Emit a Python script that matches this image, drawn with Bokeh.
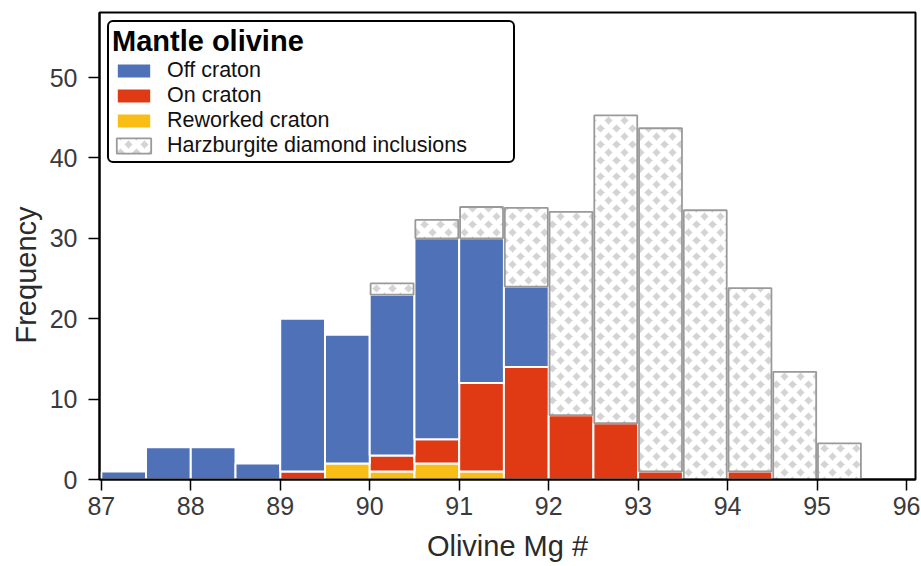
import numpy as np
from bokeh.plotting import figure
from bokeh.models import (ColumnDataSource, Legend, LegendItem, Range1d, FixedTicker,
                          CDSView, BooleanFilter, Title)
from bokeh.embed import file_html
from bokeh.resources import INLINE

# Olivine Mg# histogram, 0.5-wide bins (bin centres)
bin_centers = [87.25, 87.75, 88.25, 88.75, 89.25, 89.75, 90.25, 90.75, 91.25,
               91.75, 92.25, 92.75, 93.25, 93.75, 94.25, 94.75, 95.25]
reworked_craton = [0, 0, 0, 0, 0, 2, 1, 2, 1, 0, 0, 0, 0, 0, 0, 0, 0]
on_craton = [0, 0, 0, 0, 1, 0, 2, 3, 11, 14, 8, 7, 1, 0, 1, 0, 0]
off_craton = [1, 4, 4, 2, 19, 16, 20, 25, 18, 10, 0, 0, 0, 0, 0, 0, 0]
harzburgite = [0, 0, 0, 0, 0, 0, 1.4, 2.3, 3.9, 9.8, 25.3, 38.3, 42.7, 33.5, 22.8, 13.4, 4.5]

x_ticks = [87, 88, 89, 90, 91, 92, 93, 94, 95, 96]
y_ticks = [0, 10, 20, 30, 40, 50]

# cumulative stacking: reworked at the bottom, then on craton, off craton, harzburgite
b0 = np.zeros(len(bin_centers))
t0 = b0 + np.array(reworked_craton)
t1 = t0 + np.array(on_craton)
t2 = t1 + np.array(off_craton)
t3 = t2 + np.array(harzburgite)

src = ColumnDataSource(dict(x=bin_centers, b0=b0, t0=t0, t1=t1, t2=t2, t3=t3))


def nonzero(values):
    # only draw bins that actually hold counts
    return CDSView(filter=BooleanFilter([v > 0 for v in values]))


FONT = "Liberation Sans"
BLUE = "#4f71b7"
RED = "#e03a14"
YELLOW = "#f8be16"

p = figure(width=921, height=566, output_backend="svg", toolbar_location=None,
           x_range=Range1d(86.98, 96.1), y_range=Range1d(0, 58.1),
           min_border_left=99, min_border_right=6, min_border_top=12, min_border_bottom=87)
p.xgrid.visible = False
p.ygrid.visible = False
p.outline_line_color = "black"
p.outline_line_width = 2

r_rw = p.vbar(x="x", width=0.5, bottom="b0", top="t0", source=src, view=nonzero(reworked_craton),
              fill_color=YELLOW, line_color="white", line_width=2)
r_on = p.vbar(x="x", width=0.5, bottom="t0", top="t1", source=src, view=nonzero(on_craton),
              fill_color=RED, line_color="white", line_width=2)
r_off = p.vbar(x="x", width=0.5, bottom="t1", top="t2", source=src, view=nonzero(off_craton),
               fill_color=BLUE, line_color="white", line_width=2)
r_hz = p.vbar(x="x", width=0.48, bottom="t2", top="t3", source=src, view=nonzero(harzburgite),
              fill_color="#d4d4d4", line_color="#9a9a9a", line_width=1.8,
              hatch_pattern="diagonal_cross", hatch_color="white",
              hatch_scale=16, hatch_weight=5.5)

for ax in (p.xaxis[0], p.yaxis[0]):
    ax.axis_line_color = "black"
    ax.axis_line_width = 2
    ax.major_tick_line_color = "black"
    ax.major_tick_line_width = 1.5
    ax.major_tick_in = 0
    ax.major_tick_out = 11
    ax.minor_tick_line_color = None
    ax.major_label_text_font = FONT
    ax.major_label_text_font_size = "25px"
    ax.major_label_text_color = "#3a3a3a"
    ax.axis_label_text_font = FONT
    ax.axis_label_text_font_size = "29px"
    ax.axis_label_text_font_style = "normal"
    ax.axis_label_text_color = "#2a2a2a"

p.xaxis.ticker = FixedTicker(ticks=x_ticks)
p.yaxis.ticker = FixedTicker(ticks=y_ticks)
p.xaxis.axis_label = "Olivine Mg #"
p.xaxis.major_label_standoff = 6
p.yaxis.major_label_standoff = 11
p.xaxis.axis_label_standoff = 12

# y-axis title, set a little below the middle of the axis
p.add_layout(Title(text="Frequency", align="left", offset=136, standoff=9,
                   text_font=FONT, text_font_size="29px", text_font_style="normal",
                   text_color="#2a2a2a"), "left")

legend = Legend(items=[
    LegendItem(label="Off craton", renderers=[r_off]),
    LegendItem(label="On craton", renderers=[r_on]),
    LegendItem(label="Reworked craton", renderers=[r_rw]),
    LegendItem(label="Harzburgite diamond inclusions", renderers=[r_hz]),
], location="top_left")
legend.title = "Mantle olivine"
legend.title_text_font = FONT
legend.title_text_font_style = "bold"
legend.title_text_font_size = "29px"
legend.title_text_color = "black"
legend.title_standoff = 0
legend.label_text_font = FONT
legend.label_text_font_size = "21.5px"
legend.label_text_color = "#111111"
legend.label_height = 21
legend.label_width = 343
legend.glyph_height = 19
legend.glyph_width = 43
legend.label_standoff = 12
legend.spacing = -1
legend.padding = 3
legend.margin = 8
legend.border_line_color = "black"
legend.border_line_alpha = 1
legend.border_line_width = 2
legend.border_radius = 6
legend.background_fill_alpha = 1
p.add_layout(legend)

open("out.html", "w").write(file_html(p, INLINE))
